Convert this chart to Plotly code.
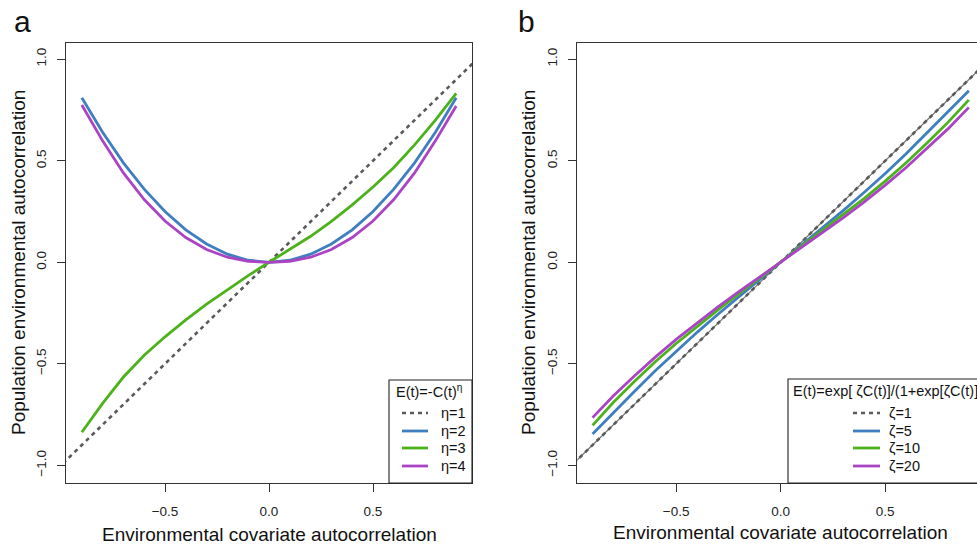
import plotly.graph_objects as go

# ---------------- data ----------------
x_vals = [-0.9, -0.8, -0.7, -0.6, -0.5, -0.4, -0.3, -0.2, -0.1, 0.0,
          0.1, 0.2, 0.3, 0.4, 0.5, 0.6, 0.7, 0.8, 0.9]

# reference identity line (eta=1 / zeta=1)
ident_x = [-1.1, 1.1]
ident_y = [-1.1, 1.1]

# panel a : E(t) = -C(t)^eta
eta2 = [0.81, 0.64, 0.49, 0.36, 0.25, 0.16, 0.09, 0.04, 0.01, 0.0,
        0.01, 0.04, 0.09, 0.16, 0.25, 0.36, 0.49, 0.64, 0.81]
eta3 = [-0.837, -0.695, -0.565, -0.458, -0.367, -0.284, -0.206, -0.134, -0.066, 0.0,
        0.062, 0.128, 0.202, 0.283, 0.371, 0.467, 0.578, 0.70, 0.832]
eta4 = [0.775, 0.598, 0.44, 0.309, 0.203, 0.122, 0.063, 0.025, 0.005, 0.0,
        0.005, 0.025, 0.063, 0.122, 0.203, 0.309, 0.44, 0.598, 0.77]

# panel b : logistic transform
zeta5 = [-0.846, -0.739, -0.636, -0.534, -0.437, -0.345, -0.256, -0.169, -0.084, 0.0,
         0.084, 0.169, 0.256, 0.345, 0.437, 0.534, 0.636, 0.739, 0.845]
zeta10 = [-0.803, -0.689, -0.587, -0.49, -0.40, -0.315, -0.234, -0.155, -0.077, 0.0,
          0.077, 0.155, 0.234, 0.315, 0.40, 0.49, 0.587, 0.689, 0.80]
zeta20 = [-0.765, -0.657, -0.56, -0.467, -0.38, -0.298, -0.22, -0.145, -0.072, 0.0,
          0.072, 0.145, 0.22, 0.298, 0.38, 0.467, 0.56, 0.657, 0.763]

x_ticks = [-0.5, 0.0, 0.5]
y_ticks = [-1.0, -0.5, 0.0, 0.5, 1.0]
tick_text_x = ["\u22120.5", "0.0", "0.5"]
tick_text_y = ["\u22121.0", "\u22120.5", "0.0", "0.5", "1.0"]

labels_a = ["\u03b7=1", "\u03b7=2", "\u03b7=3", "\u03b7=4"]
labels_b = ["\u03b6=1", "\u03b6=5", "\u03b6=10", "\u03b6=20"]

# ---------------- style ----------------
W, H = 977, 544
FONT = "Liberation Sans, Arial, Helvetica, sans-serif"
GREY = "#5a5a5a"
BLUE = "#3f7fbf"
GREEN = "#4cb21c"
PURPLE = "#ab44c4"
LW = 2.8
DASH = "4px,4px"
DW = 2.6


def px(v):
    return v / W


def py(v):
    return 1 - v / H


fig = go.Figure()

# panel a
fig.add_trace(go.Scatter(x=ident_x, y=ident_y, mode="lines", xaxis="x", yaxis="y",
                         line=dict(color=GREY, width=DW, dash=DASH)))
fig.add_trace(go.Scatter(x=x_vals, y=eta2, mode="lines", xaxis="x", yaxis="y",
                         line=dict(color=BLUE, width=LW)))
fig.add_trace(go.Scatter(x=x_vals, y=eta3, mode="lines", xaxis="x", yaxis="y",
                         line=dict(color=GREEN, width=LW)))
fig.add_trace(go.Scatter(x=x_vals, y=eta4, mode="lines", xaxis="x", yaxis="y",
                         line=dict(color=PURPLE, width=LW)))

# panel b
fig.add_trace(go.Scatter(x=ident_x, y=ident_y, mode="lines", xaxis="x2", yaxis="y2",
                         line=dict(color="#707070", width=1.2)))
fig.add_trace(go.Scatter(x=ident_x, y=ident_y, mode="lines", xaxis="x2", yaxis="y2",
                         line=dict(color=GREY, width=DW, dash=DASH)))
fig.add_trace(go.Scatter(x=x_vals, y=zeta5, mode="lines", xaxis="x2", yaxis="y2",
                         line=dict(color=BLUE, width=LW)))
fig.add_trace(go.Scatter(x=x_vals, y=zeta10, mode="lines", xaxis="x2", yaxis="y2",
                         line=dict(color=GREEN, width=LW)))
fig.add_trace(go.Scatter(x=x_vals, y=zeta20, mode="lines", xaxis="x2", yaxis="y2",
                         line=dict(color=PURPLE, width=LW)))

axis_common = dict(showgrid=False, zeroline=False, showline=True, linecolor="#333",
                   linewidth=1.2, ticks="outside", ticklen=8, tickcolor="#333",
                   tickwidth=1.2, tickfont=dict(family=FONT, size=13.5, color="#222"))

ydom = [py(483), py(43)]
yrng = [-1.087, 1.080]

fig.update_layout(
    width=W, height=H, margin=dict(l=0, r=0, t=0, b=0),
    paper_bgcolor="white", plot_bgcolor="white", showlegend=False,
    xaxis=dict(domain=[px(66), px(472)], range=[-0.976, 0.976], anchor="y",
               tickvals=x_ticks, ticktext=tick_text_x, mirror=True,
               ticklabelstandoff=8, **axis_common),
    yaxis=dict(domain=ydom, range=yrng, anchor="x", tickvals=y_ticks,
               ticktext=tick_text_y, tickangle=-90, mirror=True,
               ticklabelstandoff=6, **axis_common),
    xaxis2=dict(domain=[px(577.3), 1.0], range=[-0.973, 0.939], anchor="y2",
                tickvals=x_ticks, ticktext=tick_text_x, mirror=True,
                ticklabelstandoff=8, **axis_common),
    yaxis2=dict(domain=ydom, range=yrng, anchor="x2", tickvals=y_ticks,
                ticktext=tick_text_y, tickangle=-90, mirror=False,
                ticklabelstandoff=6, **axis_common),
)

ann = []
shapes = []


def text(x, y, s, size, xanchor="center", angle=0):
    ann.append(dict(x=px(x), y=py(y), xref="paper", yref="paper", text=s,
                    showarrow=False, xanchor=xanchor, yanchor="middle",
                    textangle=angle, font=dict(family=FONT, size=size, color="#111")))


# panel letters
text(22, 22, "a", 30)
text(526, 22, "b", 30)
# axis titles
xtitle = "Environmental covariate autocorrelation"
ytitle = "Population environmental autocorrelation"
text(269, 534, xtitle, 19)
text(780.6, 532, xtitle, 19)
text(18, 263, ytitle, 19, angle=-90)
text(528, 263, ytitle, 19, angle=-90)

# legends
LF = 14.5
rows = [413, 431, 448, 466]
styles = [dict(color=GREY, width=DW, dash=DASH), dict(color=BLUE, width=LW),
          dict(color=GREEN, width=LW), dict(color=PURPLE, width=LW)]

# legend a
shapes.append(dict(type="rect", xref="paper", yref="paper", x0=px(389), x1=px(472),
                   y0=py(483), y1=py(380), line=dict(color="#222", width=1.1),
                   fillcolor="white", layer="above"))
text(394, 391, "E(t)=-C(t)<sup>\u03b7</sup>", LF, xanchor="left")
for r, st, lab in zip(rows, styles, labels_a):
    shapes.append(dict(type="line", xref="paper", yref="paper", x0=px(402), x1=px(428),
                       y0=py(r), y1=py(r), line=st, layer="above"))
    text(439, r, lab, LF, xanchor="left")

# legend b
shapes.append(dict(type="rect", xref="paper", yref="paper", x0=px(788), x1=px(1000),
                   y0=py(483), y1=py(379), line=dict(color="#222", width=1.1),
                   fillcolor="white", layer="above"))
text(791, 391, "E(t)=exp[ \u03b6C(t)]/(1+exp[\u03b6C(t)]", LF, xanchor="left")
for r, st, lab in zip(rows, styles, labels_b):
    shapes.append(dict(type="line", xref="paper", yref="paper", x0=px(853), x1=px(880),
                       y0=py(r), y1=py(r), line=st, layer="above"))
    text(887, r, lab, LF, xanchor="left")

fig.update_layout(annotations=ann, shapes=shapes)
fig.write_html("out.html")
